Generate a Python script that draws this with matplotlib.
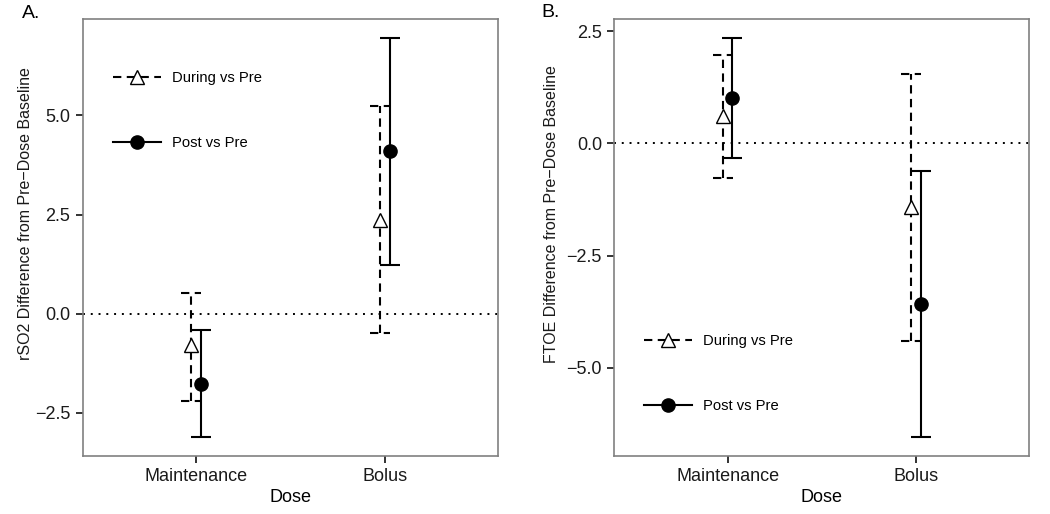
import numpy as np
import matplotlib.pyplot as plt
from matplotlib.lines import Line2D

plt.rcParams['font.family'] = ['Liberation Sans', 'DejaVu Sans']

doses = ['Maintenance', 'Bolus']
series = ['During vs Pre', 'Post vs Pre']

# panel A: rSO2 (mean, lower, upper)
rso2_during_mid = [-0.79, 2.36]
rso2_during_lo = [-2.19, -0.49]
rso2_during_hi = [0.52, 5.24]
rso2_post_mid = [-1.78, 4.09]
rso2_post_lo = [-3.10, 1.23]
rso2_post_hi = [-0.41, 6.94]

# panel B: FTOE
ftoe_during_mid = [0.61, -1.41]
ftoe_during_lo = [-0.77, -4.40]
ftoe_during_hi = [1.97, 1.54]
ftoe_post_mid = [1.00, -3.59]
ftoe_post_lo = [-0.33, -6.55]
ftoe_post_hi = [2.34, -0.62]

DASH = (0, (4, 2.6))
GRAY = '#808080'
FS = 13

fig = plt.figure(figsize=(10.5, 5.14), dpi=100)
axA = fig.add_axes([0.0790, 0.1134, 0.3956, 0.8497])
axB = fig.add_axes([0.5852, 0.1134, 0.3951, 0.8497])


def draw_bar(ax, x, mid, lo, hi, ls, marker, mfc):
    cw = 0.053
    ax.vlines(x, lo, hi, colors='k', linestyles=ls, lw=1.5, zorder=3)
    ax.hlines([lo, hi], x - cw, x + cw, colors='k', linestyles=ls, lw=1.5, zorder=3)
    ax.plot([x], [mid], marker=marker, ms=10.5 if marker == '^' else 9.5,
            mfc=mfc, mec='k', mew=1.0, ls='none', zorder=4)


def panel(ax, d_mid, d_lo, d_hi, p_mid, p_lo, p_hi, ylim, yticks, leg_xy):
    ax.axhline(0, color='k', lw=1.4, ls=(0, (1, 3)), zorder=1)
    for i in range(len(doses)):
        x = i + 1
        draw_bar(ax, x - 0.027, d_mid[i], d_lo[i], d_hi[i], DASH, '^', 'white')
        draw_bar(ax, x + 0.025, p_mid[i], p_lo[i], p_hi[i], '-', 'o', 'k')
    ax.set_xlim(0.4, 2.6)
    ax.set_ylim(*ylim)
    ax.set_xticks([1, 2])
    ax.set_xticklabels(doses)
    ax.set_yticks(yticks)
    ax.set_yticklabels([('%.1f' % t).replace('-', '\u2212') for t in yticks])
    ax.tick_params(length=5, width=1.4, color='#333333', labelsize=FS,
                   labelcolor='#1a1a1a', pad=4)
    for sp in ax.spines.values():
        sp.set_color(GRAY)
        sp.set_linewidth(1.2)
    ax.set_xlabel('Dose', fontsize=FS, labelpad=3)
    handles = [
        Line2D([], [], color='k', ls=DASH, lw=1.5, marker='^', ms=10.5,
               mfc='white', mec='k', mew=1.0),
        Line2D([], [], color='k', ls='-', lw=1.5, marker='o', ms=9.5,
               mfc='k', mec='k'),
    ]
    ax.legend(handles, series, loc='center left', bbox_to_anchor=leg_xy,
              frameon=False, fontsize=10.6, handlelength=3.3, handletextpad=0.7,
              labelspacing=3.5, borderpad=0, borderaxespad=0)


panel(axA, rso2_during_mid, rso2_during_lo, rso2_during_hi,
      rso2_post_mid, rso2_post_lo, rso2_post_hi,
      (-3.58, 7.43), [-2.5, 0.0, 2.5, 5.0], (0.0715, 0.79))
panel(axB, ftoe_during_mid, ftoe_during_lo, ftoe_during_hi,
      ftoe_post_mid, ftoe_post_lo, ftoe_post_hi,
      (-6.96, 2.77), [-5.0, -2.5, 0.0, 2.5], (0.071, 0.188))

fig.text(26 / 1050, 1 - 214 / 514, 'rSO2 Difference from Pre\u2212Dose Baseline',
         rotation=90, ha='center', va='center', fontsize=11.5, color='#1a1a1a')
fig.text(551 / 1050, 1 - 214 / 514, 'FTOE Difference from Pre\u2212Dose Baseline',
         rotation=90, ha='center', va='center', fontsize=11.5, color='#1a1a1a')
fig.text(22 / 1050, 1 - 18.5 / 514, 'A.', fontsize=14, va='baseline')
fig.text(541 / 1050, 1 - 17 / 514, 'B.', fontsize=14, va='baseline')

fig.savefig('out.png', dpi=100)
